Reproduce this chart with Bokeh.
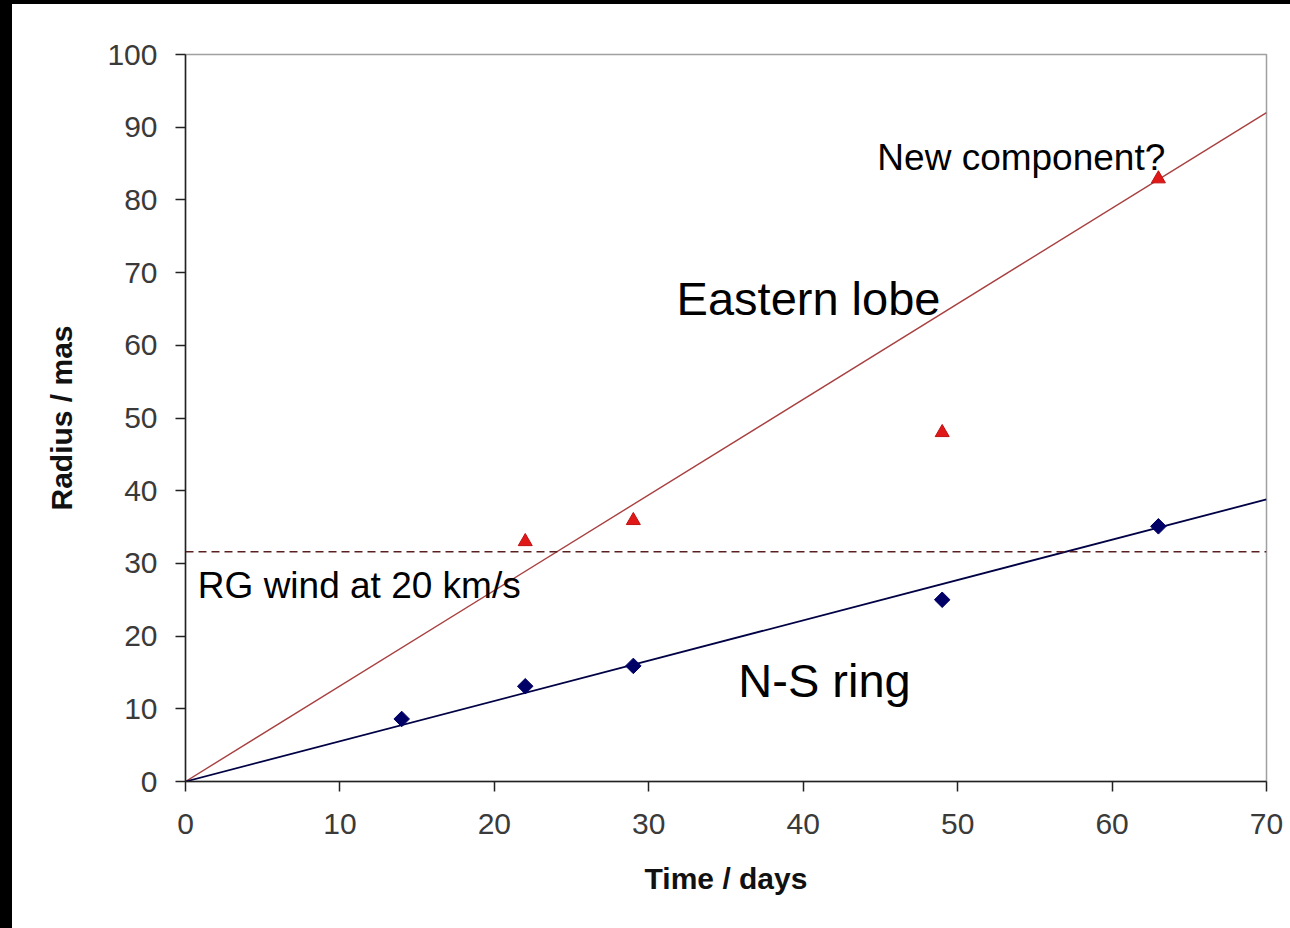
import math
from bokeh.plotting import figure
from bokeh.models import Range1d, FixedTicker, Label
from bokeh.embed import file_html
from bokeh.resources import INLINE

# Data
ns_days = [14, 22, 29, 49, 63]
ns_radius = [8.6, 13.1, 15.9, 25.0, 35.1]
east_days = [22, 29, 49, 63]
east_radius = [33.0, 35.9, 48.0, 82.9]
fit_days = [0, 70]
east_fit = [0, 92.0]
ns_fit = [0, 38.8]
wind_days = [0, 70]
wind_radius = [31.6, 31.6]
x_ticks = [0, 10, 20, 30, 40, 50, 60, 70]
y_ticks = [0, 10, 20, 30, 40, 50, 60, 70, 80, 90, 100]

FONT = "Liberation Sans"

p = figure(width=1290, height=928, output_backend="svg", toolbar_location=None,
           x_range=Range1d(0, 70), y_range=Range1d(0, 100),
           min_border_left=173, min_border_right=36, min_border_top=50, min_border_bottom=151)
p.styles = {"border-left": "12px solid black", "border-top": "4px solid black",
            "box-sizing": "border-box"}
p.background_fill_color = "white"
p.border_fill_color = "white"
p.grid.visible = False
p.outline_line_color = "#a0a0a0"
p.outline_line_width = 1.5

for ax, ticks in ((p.xaxis[0], x_ticks), (p.yaxis[0], y_ticks)):
    ax.ticker = FixedTicker(ticks=ticks)
    ax.minor_tick_line_color = None
    ax.major_tick_out = 10
    ax.major_tick_in = 0
    ax.axis_line_color = "#222222"
    ax.axis_line_width = 1.5
    ax.major_tick_line_color = "#222222"
    ax.major_tick_line_width = 1.5
    ax.major_label_text_font = FONT
    ax.major_label_text_font_size = "30px"
    ax.major_label_text_color = "#3a3a3a"
    ax.axis_label_text_font = FONT
    ax.axis_label_text_font_style = "bold"
    ax.axis_label_text_font_size = "30px"
    ax.axis_label_text_color = "#111111"

p.xaxis.axis_label = "Time / days"
p.yaxis.axis_label = "Radius / mas"
p.xaxis.major_label_standoff = 22
p.xaxis.axis_label_standoff = 25
p.yaxis.major_label_standoff = 18
p.yaxis.axis_label_standoff = 26

# Lines
p.line(fit_days, east_fit, line_color="#a84040", line_width=1.4)
p.line(fit_days, ns_fit, line_color="#000044", line_width=1.8)
p.line(wind_days, wind_radius, line_color="#5a2020", line_width=1.5, line_dash="8 5")

# Markers
p.scatter(east_days, east_radius, marker="triangle", size=14,
          fill_color="#e01818", line_color="#c01010")
p.scatter(ns_days, ns_radius, marker="square", angle=math.pi / 4, size=11,
          fill_color="#000066", line_color="#000066")

labels = [
    ("New component?", 44.8, 85.8, "37px"),
    ("Eastern lobe", 31.8, 66.5, "47px"),
    ("RG wind at 20 km/s", 0.8, 27.0, "37px"),
    ("N-S ring", 35.8, 13.9, "47px"),
]
for txt, x, y, size in labels:
    p.add_layout(Label(x=x, y=y, text=txt, text_font=FONT, text_font_size=size,
                       text_color="black", text_baseline="alphabetic"))

open("out.html", "w").write(file_html(p, INLINE))
